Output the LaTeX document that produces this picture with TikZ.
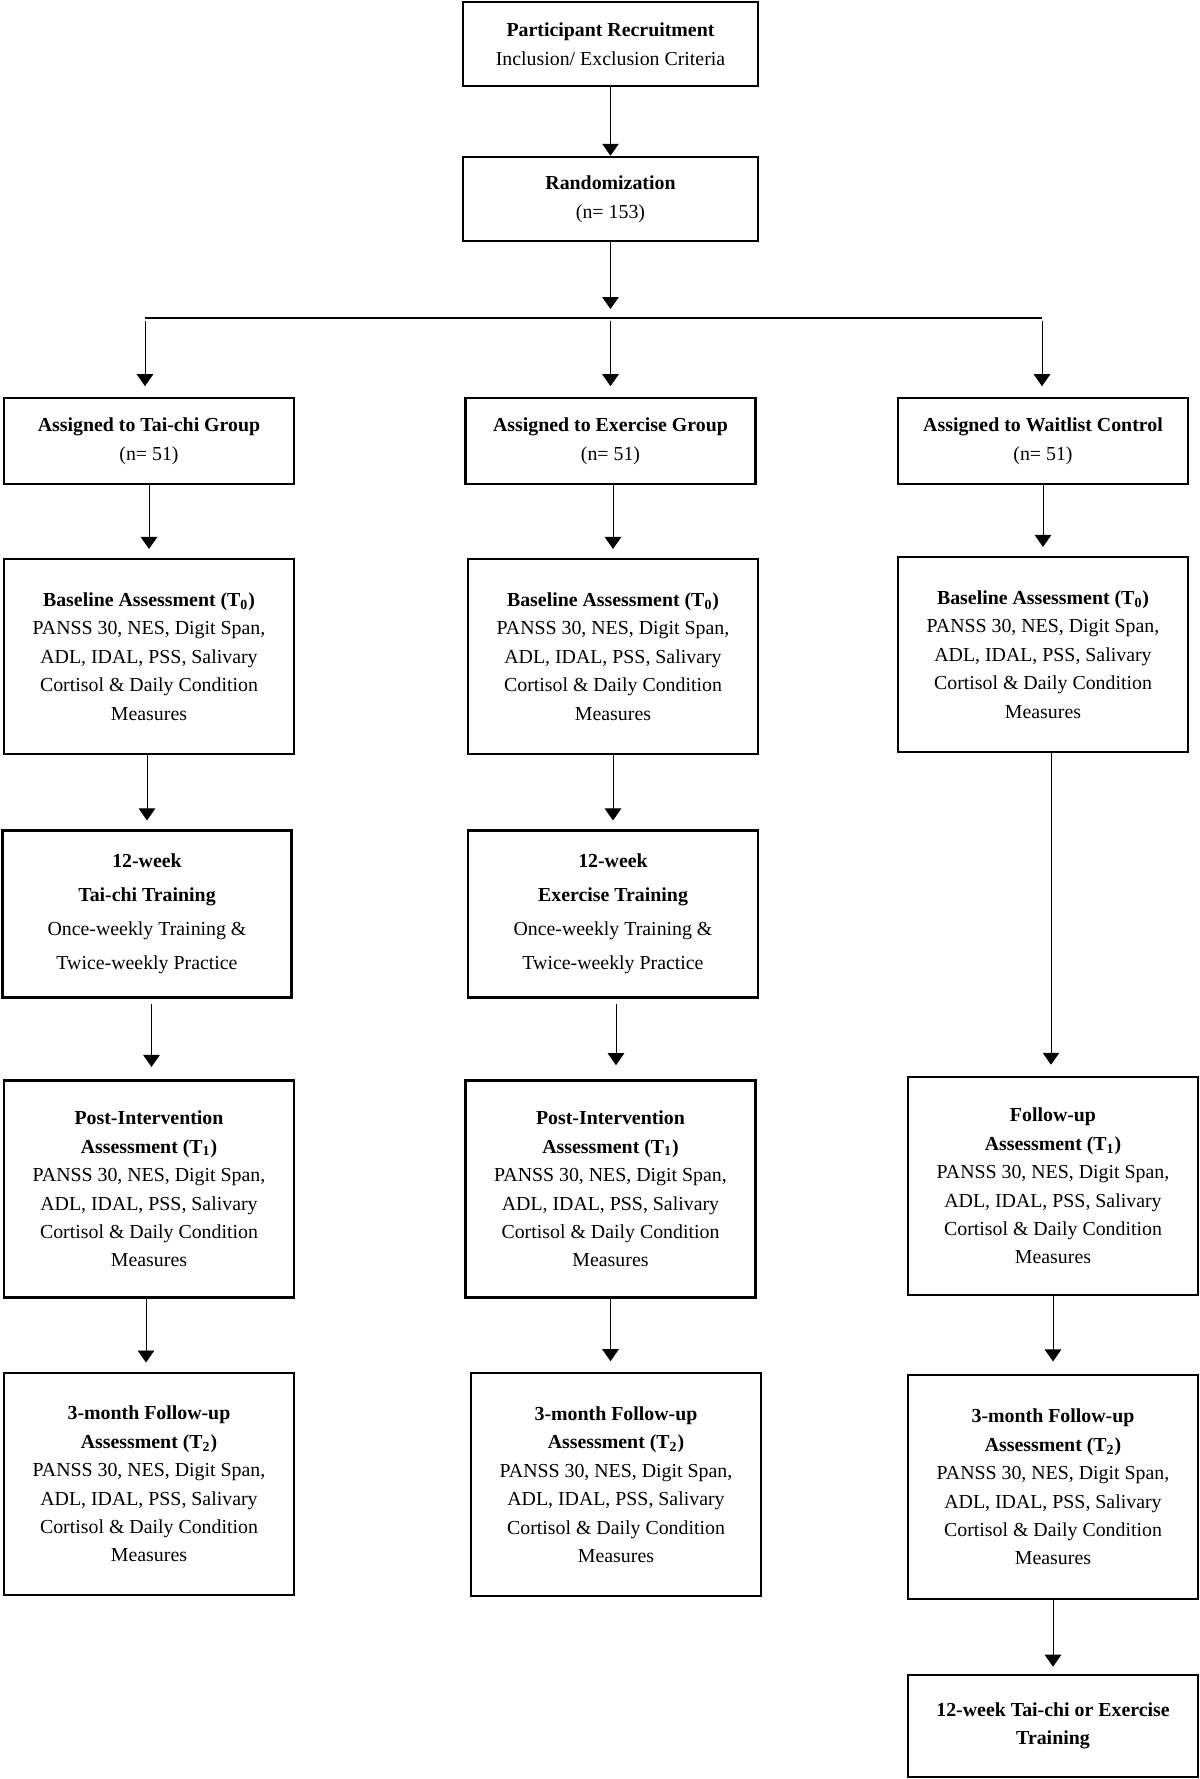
\documentclass[tikz,border=0pt]{standalone}
\usepackage{fontspec}
\setmainfont{Liberation Serif}
\usetikzlibrary{arrows.meta}

\begin{document}
\begin{tikzpicture}[x=0.02cm, y=-0.02cm,
                stage/.style={draw, line width=1.5pt, align=center, inner sep=0pt,
                              minimum width=5.8cm, font=\fontsize{11.3}{16.2}\selectfont},
                flow/.style={-{Triangle[length=6.8pt,width=9.4pt]}, line width=0.5pt}]
                \useasboundingbox (0,0) rectangle (1200,1779);
                % top of the trial
                \node [stage, minimum width=5.9cm, minimum height=1.68cm] (recruit) at (610.5,44)
                      {\textbf{Participant Recruitment}\\Inclusion/ Exclusion Criteria};
                \node [stage, minimum width=5.9cm, minimum height=1.68cm] (random) at (610.5,199)
                      {\textbf{Randomization}\\(n= 153)};
                \draw [flow] (recruit) -- (random);
                \coordinate (split) at (610.5,309);
                \coordinate (barleft) at (145,318);
                \coordinate (barright) at (1042,318);
                \draw [flow] (random) -- (split);
                \draw [line width=1.1pt] (barleft) -- (barright);
                % the three groups
                \node [stage, minimum height=1.72cm] (taigrp) at (149,441)
                      {\textbf{Assigned to Tai-chi Group}\\(n= 51)};
                \node [stage, minimum height=1.72cm] (exgrp) at (610.5,441)
                      {\textbf{Assigned to Exercise Group}\\(n= 51)};
                \node [stage, minimum height=1.72cm] (wlgrp) at (1043,441)
                      {\textbf{Assigned to Waitlist Control}\\(n= 51)};
                \coordinate (taitop) at (145,321);
                \coordinate (extop) at (610.5,321);
                \coordinate (wltop) at (1042,321);
                \draw [flow, shorten >=6pt] (taitop) -- (taitop |- taigrp.north);
                \draw [flow, shorten >=6pt] (extop) -- (extop |- exgrp.north);
                \draw [flow, shorten >=6pt] (wltop) -- (wltop |- wlgrp.north);
                % baseline
                \node [stage, minimum height=3.9cm] (taibase) at (149,656.5)
                      {\textbf{Baseline Assessment (T\textsubscript{0})}\\PANSS 30, NES, Digit Span,\\ADL, IDAL, PSS, Salivary\\Cortisol \& Daily Condition\\Measures};
                \node [stage, minimum height=3.9cm] (exbase) at (613,656.5)
                      {\textbf{Baseline Assessment (T\textsubscript{0})}\\PANSS 30, NES, Digit Span,\\ADL, IDAL, PSS, Salivary\\Cortisol \& Daily Condition\\Measures};
                \node [stage, minimum height=3.9cm] (wlbase) at (1043,654.5)
                      {\textbf{Baseline Assessment (T\textsubscript{0})}\\PANSS 30, NES, Digit Span,\\ADL, IDAL, PSS, Salivary\\Cortisol \& Daily Condition\\Measures};
                \draw [flow, shorten >=5pt] (taigrp) -- (taibase);
                \draw [flow, shorten >=5pt] (exgrp.south -| exbase) -- (exbase);
                \draw [flow, shorten >=5pt] (wlgrp) -- (wlgrp |- wlbase.north);
                % training
                \node [stage, minimum width=5.78cm, minimum height=3.34cm, font=\fontsize{11.3}{19.4}\selectfont] (taitrain) at (147,914)
                      {\textbf{12-week}\\\textbf{Tai-chi Training}\\Once-weekly Training \&\\Twice-weekly Practice};
                \node [stage, minimum height=3.34cm, font=\fontsize{11.3}{19.4}\selectfont] (extrain) at (613,914)
                      {\textbf{12-week}\\\textbf{Exercise Training}\\Once-weekly Training \&\\Twice-weekly Practice};
                \draw [flow, shorten >=5pt] (taibase.south -| taitrain) -- (taitrain);
                \draw [flow, shorten >=5pt] (exbase) -- (extrain);
                % post intervention
                \node [stage, minimum height=4.34cm] (taipost) at (149,1189)
                      {\textbf{Post-Intervention}\\\textbf{Assessment (T\textsubscript{1})}\\PANSS 30, NES, Digit Span,\\ADL, IDAL, PSS, Salivary\\Cortisol \& Daily Condition\\Measures};
                \node [stage, minimum height=4.34cm] (expost) at (610.5,1189)
                      {\textbf{Post-Intervention}\\\textbf{Assessment (T\textsubscript{1})}\\PANSS 30, NES, Digit Span,\\ADL, IDAL, PSS, Salivary\\Cortisol \& Daily Condition\\Measures};
                \node [stage, minimum height=4.36cm] (wlpost) at (1053,1186)
                      {\textbf{Follow-up}\\\textbf{Assessment (T\textsubscript{1})}\\PANSS 30, NES, Digit Span,\\ADL, IDAL, PSS, Salivary\\Cortisol \& Daily Condition\\Measures};
                \coordinate (taidrop) at (151.5,1002);
                \coordinate (exdrop) at (616,1002);
                \draw [flow, shorten <=3pt, shorten >=7pt] (taitrain.south -| taidrop) -- (taidrop |- taipost.north);
                \draw [flow, shorten <=3pt, shorten >=8pt] (exdrop |- extrain.south) -- (exdrop |- expost.north);
                \draw [flow, shorten >=7pt] (wlbase.south -| 1051,0) -- (1051,1077);
                % three month follow-up
                \node [stage, minimum height=4.44cm] (taifu) at (149,1484)
                      {\textbf{3-month Follow-up}\\\textbf{Assessment (T\textsubscript{2})}\\PANSS 30, NES, Digit Span,\\ADL, IDAL, PSS, Salivary\\Cortisol \& Daily Condition\\Measures};
                \node [stage, minimum height=4.46cm] (exfu) at (616,1484.5)
                      {\textbf{3-month Follow-up}\\\textbf{Assessment (T\textsubscript{2})}\\PANSS 30, NES, Digit Span,\\ADL, IDAL, PSS, Salivary\\Cortisol \& Daily Condition\\Measures};
                \node [stage, minimum height=4.48cm] (wlfu) at (1053,1487)
                      {\textbf{3-month Follow-up}\\\textbf{Assessment (T\textsubscript{2})}\\PANSS 30, NES, Digit Span,\\ADL, IDAL, PSS, Salivary\\Cortisol \& Daily Condition\\Measures};
                \draw [flow, shorten >=6pt] (taipost.south -| 146,0) -- (146,1373);
                \draw [flow, shorten >=6pt] (expost) -- (expost |- exfu.north);
                \draw [flow, shorten >=7pt] (wlpost) -- (wlfu);
                % crossover
                \node [stage, minimum height=2.04cm] (wlcross) at (1053,1726)
                      {\textbf{12-week Tai-chi or Exercise}\\\textbf{Training}};
                \draw [flow, shorten >=4pt] (wlfu) -- (wlcross);
\end{tikzpicture}
\end{document}
